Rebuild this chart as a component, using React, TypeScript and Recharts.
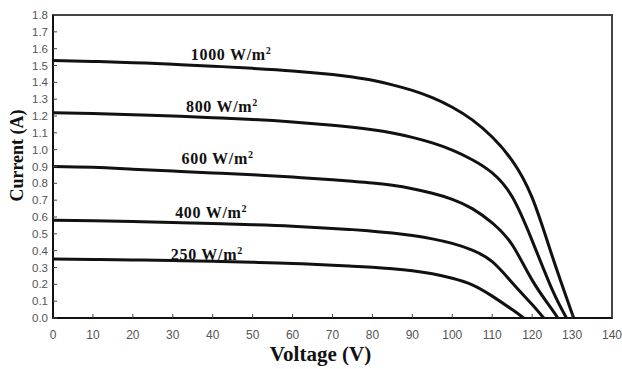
import {
  Line,
  LineChart,
  ReferenceArea,
  ReferenceDot,
  XAxis,
  YAxis,
} from "recharts";

/** Voltage sample points (V) shared by every curve. */
const VOLTS = [0, 10, 20, 30, 40, 50, 60, 70, 75, 80, 85, 90, 95, 100, 105, 110, 115, 120, 125];

/** Current (A) per irradiance. */
const I_1000 = [1.53, 1.524, 1.517, 1.507, 1.496, 1.483, 1.468, 1.447, 1.432, 1.412, 1.385, 1.352, 1.309, 1.252, 1.177, 1.075, 0.935, 0.715, 0.37];
const I_800 = [1.22, 1.215, 1.208, 1.2, 1.19, 1.179, 1.164, 1.145, 1.133, 1.118, 1.099, 1.073, 1.04, 0.997, 0.94, 0.862, 0.72, 0.46, 0.17];
const I_600 = [0.9, 0.895, 0.884, 0.873, 0.862, 0.851, 0.837, 0.821, 0.812, 0.802, 0.788, 0.768, 0.741, 0.705, 0.65, 0.565, 0.435, 0.225, 0.05];
const I_400 = [0.58, 0.578, 0.573, 0.567, 0.561, 0.554, 0.545, 0.532, 0.525, 0.516, 0.505, 0.49, 0.47, 0.443, 0.403, 0.335, 0.21, 0.08];
const I_250 = [0.35, 0.348, 0.345, 0.341, 0.337, 0.331, 0.324, 0.313, 0.308, 0.302, 0.293, 0.281, 0.263, 0.236, 0.197, 0.13, 0.05];

/** Open-circuit voltage of each curve (where current reaches 0). */
const VOC = [130.4, 128.6, 126.4, 122.9, 117.9];
const IRRADIANCE = [1000, 800, 600, 400, 250];
const CURRENTS = [I_1000, I_800, I_600, I_400, I_250];

/** Where each irradiance label starts (V, A). */
const LABEL_V = [34.5, 33.3, 32.2, 30.6, 29.5];
const LABEL_I = [1.533, 1.226, 0.915, 0.594, 0.345];

const X_TICKS = [0, 10, 20, 30, 40, 50, 60, 70, 80, 90, 100, 110, 120, 130, 140];
const Y_TICKS = [0, 0.1, 0.2, 0.3, 0.4, 0.5, 0.6, 0.7, 0.8, 0.9, 1.0, 1.1, 1.2, 1.3, 1.4, 1.5, 1.6, 1.7, 1.8];

const SERIF = "'Liberation Serif', 'Times New Roman', serif";
const SANS = "'Liberation Sans', Arial, sans-serif";
const INK = "#111";

function buildSeries(idx: number) {
  const pts = CURRENTS[idx].map((current, i) => ({ v: VOLTS[i], i: current }));
  return [...pts.filter((p) => p.v < VOC[idx]), { v: VOC[idx], i: 0 }];
}

const curveLabel = (irr: number) => (props: any) => {
  const { x, y } = props.viewBox;
  return (
    <text
      x={x}
      y={y}
      fontFamily={SERIF}
      fontWeight="bold"
      fontSize={16}
      letterSpacing={0.7}
      fill={INK}
    >
      {irr} W/m
      <tspan dy={-6} fontSize={10}>
        2
      </tspan>
    </text>
  );
};

const yTitle = (props: any) => {
  const { x, y, height } = props.viewBox;
  const cx = x + 23;
  const cy = y + height / 2 - 11;
  return (
    <text
      x={cx}
      y={cy}
      transform={`rotate(-90 ${cx} ${cy})`}
      textAnchor="middle"
      fontFamily={SERIF}
      fontWeight="bold"
      fontSize={18}
      fill={INK}
    >
      Current (A)
    </text>
  );
};

const xTitle = (props: any) => {
  const { x, y, width } = props.viewBox;
  return (
    <text
      x={x + width / 2 - 12}
      y={y + 43}
      textAnchor="middle"
      fontFamily={SERIF}
      fontWeight="bold"
      fontSize={21}
      fill={INK}
    >
      Voltage (V)
    </text>
  );
};

export default function App() {
  return (
    <div style={{ position: "absolute", left: 0, top: 0, background: "#fff" }}>
      <LineChart
        width={622}
        height={369}
        margin={{ top: 15, right: 10, bottom: 0, left: 0 }}
      >
        <ReferenceArea
          x1={0}
          x2={140}
          y1={0}
          y2={1.8}
          fill="none"
          stroke="#444"
          strokeWidth={2}
        />
        <XAxis
          dataKey="v"
          type="number"
          domain={[0, 140]}
          ticks={X_TICKS}
          interval={0}
          allowDataOverflow
          height={51}
          tickSize={-4}
          tickMargin={16}
          tick={{ fill: "#555", fontSize: 12, fontFamily: SANS }}
          tickLine={{ stroke: "#444" }}
          axisLine={{ stroke: INK, strokeWidth: 2 }}
          label={xTitle}
        />
        <YAxis
          type="number"
          domain={[0, 1.8]}
          ticks={Y_TICKS}
          interval={0}
          allowDataOverflow
          width={53}
          tickSize={-4}
          tickMargin={9}
          tickFormatter={(t: number) => t.toFixed(1)}
          tick={{ fill: "#555", fontSize: 11.5, fontFamily: SANS }}
          tickLine={{ stroke: "#444" }}
          axisLine={{ stroke: INK, strokeWidth: 2 }}
          label={yTitle}
        />
        {IRRADIANCE.map((irr, idx) => (
          <Line
            key={irr}
            data={buildSeries(idx)}
            dataKey="i"
            type="natural"
            stroke={INK}
            strokeWidth={3}
            dot={false}
            activeDot={false}
            isAnimationActive={false}
          />
        ))}
        {IRRADIANCE.map((irr, idx) => (
          <ReferenceDot
            key={`lbl-${irr}`}
            x={LABEL_V[idx]}
            y={LABEL_I[idx]}
            r={0}
            fill="none"
            stroke="none"
            label={curveLabel(irr)}
          />
        ))}
      </LineChart>
    </div>
  );
}
